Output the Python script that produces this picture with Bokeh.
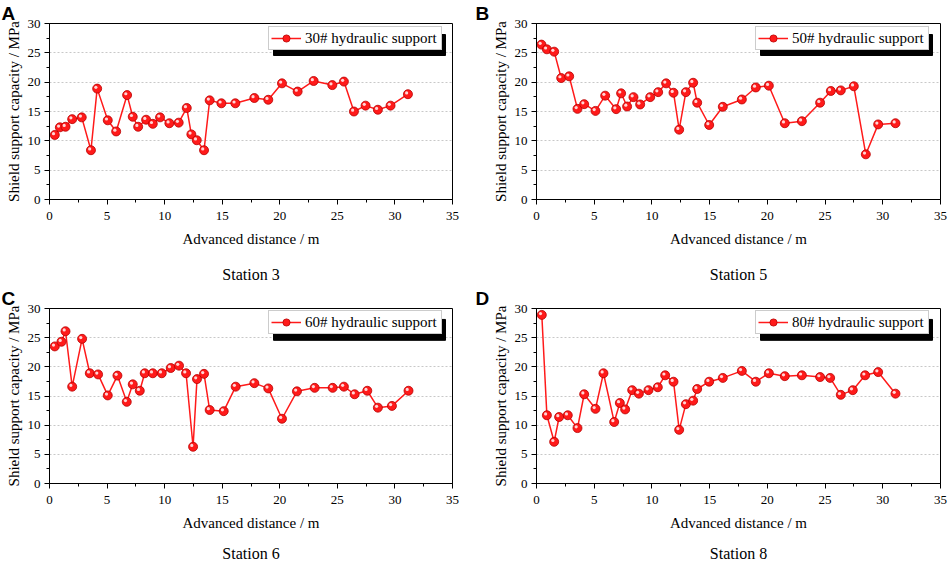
from bokeh.plotting import figure
from bokeh.models import (Range1d, SingleIntervalTicker, FixedTicker, LinearAxis,
                          Legend, LegendItem)
from bokeh.layouts import column, row
from bokeh.embed import file_html
from bokeh.resources import INLINE

# ---------------- data ----------------
x_station3 = [0.46, 0.90, 1.39, 1.97, 2.80, 3.60, 4.14, 5.06, 5.79, 6.74, 7.23, 7.70,
              8.39, 8.97, 9.60, 10.41, 11.22, 11.92, 12.32, 12.79, 13.42, 13.91, 14.93, 16.14,
              17.79, 19.00, 20.19, 21.55, 22.94, 24.56, 25.57, 26.44, 27.45, 28.52, 29.62, 31.13]
y_station3 = [11.0, 12.3, 12.4, 13.7, 14.0, 8.4, 18.9, 13.5, 11.6, 17.8, 14.1, 12.4,
              13.6, 12.9, 14.0, 13.0, 13.1, 15.6, 11.1, 10.1, 8.4, 16.9, 16.4, 16.4,
              17.3, 17.0, 19.8, 18.4, 20.2, 19.5, 20.1, 15.0, 16.0, 15.3, 16.0, 17.95]

x_station5 = [0.43, 0.90, 1.53, 2.14, 2.83, 3.55, 4.13, 5.11, 5.95, 6.90, 7.33, 7.85,
              8.40, 8.98, 9.85, 10.54, 11.23, 11.87, 12.36, 12.94, 13.57, 13.92, 14.96, 16.14,
              17.79, 19.00, 20.13, 21.51, 22.99, 24.57, 25.50, 26.36, 27.49, 28.53, 29.60, 31.10]
y_station5 = [26.4, 25.6, 25.2, 20.7, 21.0, 15.45, 16.25, 15.1, 17.7, 15.4, 18.1, 15.85,
              17.45, 16.2, 17.45, 18.3, 19.8, 18.2, 11.9, 18.3, 19.9, 16.5, 12.7, 15.8,
              17.05, 19.1, 19.4, 13.0, 13.35, 16.5, 18.5, 18.6, 19.3, 7.7, 12.8, 13.0]

x_station6 = [0.46, 1.04, 1.39, 1.97, 2.83, 3.50, 4.22, 5.06, 5.90, 6.71, 7.23, 7.84,
              8.27, 8.97, 9.75, 10.53, 11.25, 11.86, 12.47, 12.81, 13.42, 13.91, 15.13, 16.17,
              17.79, 19.00, 20.19, 21.49, 23.03, 24.59, 25.57, 26.50, 27.60, 28.52, 29.74, 31.18]
y_station6 = [23.5, 24.3, 26.1, 16.6, 24.8, 18.9, 18.7, 15.1, 18.5, 14.0, 17.0, 15.9,
              18.9, 18.9, 18.9, 19.8, 20.2, 18.9, 6.3, 17.9, 18.8, 12.6, 12.4, 16.6,
              17.2, 16.3, 11.1, 15.8, 16.4, 16.4, 16.6, 15.3, 15.9, 13.0, 13.3, 15.9]

x_station8 = [0.46, 0.90, 1.53, 1.96, 2.71, 3.55, 4.13, 5.11, 5.80, 6.73, 7.22, 7.68,
              8.29, 8.87, 9.70, 10.51, 11.15, 11.87, 12.36, 12.94, 13.57, 13.92, 14.96, 16.14,
              17.79, 19.00, 20.13, 21.51, 22.99, 24.57, 25.44, 26.36, 27.40, 28.47, 29.60, 31.10]
y_station8 = [28.9, 11.7, 7.15, 11.4, 11.7, 9.5, 15.3, 12.8, 18.9, 10.55, 13.8, 12.7,
              16.0, 15.4, 16.0, 16.5, 18.55, 17.45, 9.2, 13.6, 14.2, 16.2, 17.45, 18.1,
              19.3, 17.45, 18.9, 18.4, 18.55, 18.25, 18.1, 15.2, 16.0, 18.55, 19.1, 15.4]

legend_labels = ["30# hydraulic support", "50# hydraulic support",
                 "60# hydraulic support", "80# hydraulic support"]
station_titles = ["Station 3", "Station 5", "Station 6", "Station 8"]
panel_letters = ["A", "B", "C", "D"]

x_label = "Advanced distance / m"
y_label = "Shield support capacity / MPa"
X_MAX, Y_MAX = 35, 30

SERIF = "Liberation Serif"
RED = "#ff1a1a"


def make_panel(xs, ys, leg, station, letter, left, right, top, bottom, height, station_standoff):
    width = 474
    p = figure(width=width, height=height,
               min_border_left=left, min_border_right=right,
               min_border_top=top, min_border_bottom=bottom,
               x_range=Range1d(0, X_MAX), y_range=Range1d(0, Y_MAX),
               output_backend="svg", toolbar_location=None,
               background_fill_color="white", border_fill_color="white")
    fw = width - left - right
    fh = height - top - bottom
    pxx = fw / X_MAX
    pxy = fh / Y_MAX

    p.outline_line_color = "black"
    p.outline_line_width = 1
    p.outline_line_alpha = 1

    p.xaxis.ticker = SingleIntervalTicker(interval=5, num_minor_ticks=2)
    p.yaxis.ticker = SingleIntervalTicker(interval=5, num_minor_ticks=2)
    for ax in (p.xaxis[0], p.yaxis[0]):
        ax.axis_line_color = "black"
        ax.axis_line_width = 1
        ax.major_tick_line_color = "black"
        ax.minor_tick_line_color = "black"
        ax.major_tick_in = 0
        ax.major_tick_out = 5
        ax.minor_tick_in = 0
        ax.minor_tick_out = 3
        ax.major_label_text_font = SERIF
        ax.major_label_text_font_size = "13px"
        ax.major_label_text_color = "black"
        ax.axis_label_text_font = SERIF
        ax.axis_label_text_font_size = "15px"
        ax.axis_label_text_font_style = "normal"
        ax.axis_label_text_color = "black"
    p.xaxis.axis_label = x_label
    p.yaxis.axis_label = y_label
    p.xaxis.major_label_standoff = 7
    p.xaxis.axis_label_standoff = 8
    p.yaxis.major_label_standoff = 4
    p.yaxis.axis_label_standoff = 3

    # station caption: a tick-less extra axis under the x axis, carrying only its label
    st_axis = LinearAxis(ticker=FixedTicker(ticks=[]), axis_label=station,
                         axis_line_color=None, major_tick_line_color=None,
                         minor_tick_line_color=None, major_tick_out=0, minor_tick_out=0,
                         major_label_standoff=0, axis_label_standoff=station_standoff,
                         axis_label_text_font=SERIF, axis_label_text_font_size="16px",
                         axis_label_text_font_style="normal", axis_label_text_color="black")
    p.add_layout(st_axis, "below")

    p.xgrid.visible = False
    p.ygrid.grid_line_color = "#c8c8c8"
    p.ygrid.grid_line_dash = "2 2"
    p.ygrid.grid_line_width = 1

    # legend geometry (screen px, relative to the frame) and its drop shadow
    lw, lh, sh = 172, 21, 5
    lvx = 219
    lvy = fh - 6 - lh
    p.quad(left=(lvx + sh) / pxx, right=(lvx + sh + lw) / pxx,
           bottom=(lvy - sh) / pxy, top=(lvy - sh + lh) / pxy,
           fill_color="black", line_color="black")

    ln = p.line(xs, ys, line_color=RED, line_width=1.5)
    sc = p.scatter(xs, ys, size=9, marker="circle", fill_color=RED,
                   line_color="#b80000", line_width=0.8)
    hx = [x - 1.3 / pxx for x in xs]
    hy = [y + 1.3 / pxy for y in ys]
    p.scatter(hx, hy, size=3.2, marker="circle", fill_color="#ffd6d6", line_color=None)

    legend = Legend(items=[LegendItem(label=leg, renderers=[ln, sc])],
                    location=(lvx, lvy), orientation="vertical",
                    label_text_font=SERIF, label_text_font_size="15px",
                    label_text_color="black",
                    glyph_width=30, glyph_height=18, label_height=18,
                    label_width=134, label_standoff=4, padding=2, spacing=0,
                    margin=0, border_line_color="#9a9a9a", border_line_width=1,
                    background_fill_color="white", background_fill_alpha=1)
    p.add_layout(legend)

    # panel letter (title above, pushed to the left edge of the sub-figure)
    p.title.text = letter
    p.title.align = "left"
    p.title.offset = -(left - 1)
    p.title.standoff = 0
    p.title.text_font = "Liberation Sans"
    p.title.text_font_style = "bold"
    p.title.text_font_size = "19px"
    p.title.text_color = "black"
    return p


pA = make_panel(x_station3, y_station3, legend_labels[0], station_titles[0], panel_letters[0],
                49, 22, 23, 86, 285, 16)
pB = make_panel(x_station5, y_station5, legend_labels[1], station_titles[1], panel_letters[1],
                62, 8, 23, 86, 285, 16)
pC = make_panel(x_station6, y_station6, legend_labels[2], station_titles[2], panel_letters[2],
                49, 22, 22, 81, 279, 11)
pD = make_panel(x_station8, y_station8, legend_labels[3], station_titles[3], panel_letters[3],
                62, 8, 22, 81, 279, 11)

layout = column(row(pA, pB), row(pC, pD))

open("out.html", "w").write(file_html(layout, INLINE))
